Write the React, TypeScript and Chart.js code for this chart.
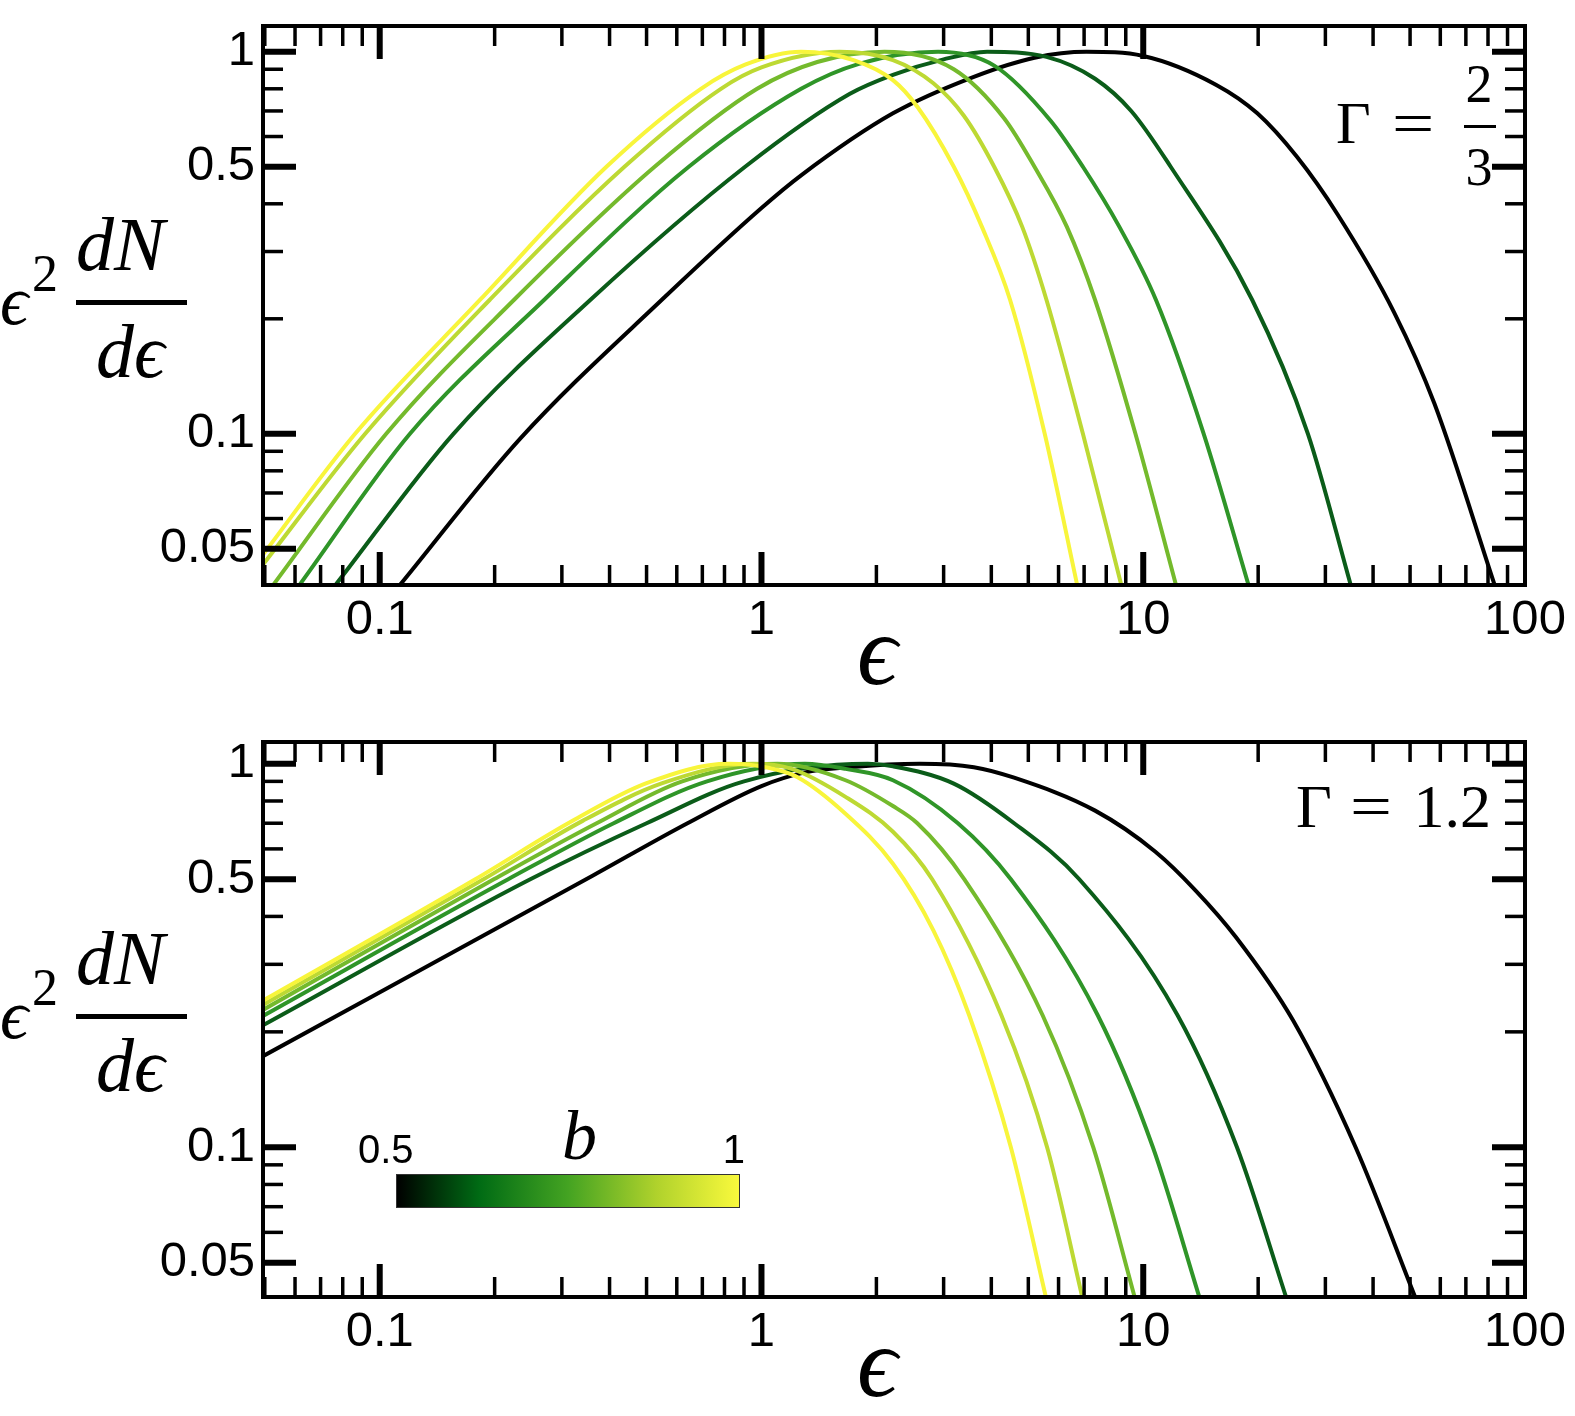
import React, { useEffect, useRef } from "react";
import { Chart, registerables } from "chart.js";

Chart.register(...registerables);

type Pt = [number, number];

// ---------- data ----------
// b parameter of the six curves (legend colour bar) and their colours
const bValues = [0.5, 0.6, 0.7, 0.8, 0.9, 1.0];
const curveColors = ["#000000", "#0b5c19", "#2f9528", "#74ba2c", "#bdd933", "#f8f53b"];

// axis ranges and tick labels
const xRange = [0.04946, 100];
const xTickLabels = [0.1, 1, 10, 100];
const yTickLabels = [0.05, 0.1, 0.5, 1];
const tickMantissas = [2, 3, 4, 5, 6, 7, 8, 9];
const xDecades = [0.01, 0.1, 1, 10];
const yMinorTicks = [0.06, 0.07, 0.08, 0.09, 0.2, 0.3, 0.4, 0.6, 0.7, 0.8, 0.9];

// Panel 1 : Gamma = 2/3   (epsilon, eps^2 dN/deps)
const g23_b050: Pt[] = [[0.1125, 0.04], [0.233, 0.097], [0.558, 0.228], [1.0, 0.39], [1.27, 0.475], [2.21, 0.69], [3.6, 0.86], [5.19, 0.965], [7.1, 1.0], [10.0, 0.975], [15.5, 0.82], [19.9, 0.69], [25.3, 0.53], [32.3, 0.375], [45.4, 0.208], [57.9, 0.12], [83.4, 0.04]];
const g23_b060: Pt[] = [[0.0763, 0.04], [0.156, 0.1], [0.356, 0.224], [0.906, 0.5], [1.7, 0.775], [2.21, 0.87], [3.0, 0.955], [3.9, 1.0], [5.58, 0.97], [7.48, 0.85], [9.3, 0.7], [11.8, 0.5], [19.3, 0.224], [27.0, 0.1], [35.0, 0.04]];
const g23_b070: Pt[] = [[0.0614, 0.04], [0.12, 0.1], [0.2694, 0.224], [0.645, 0.5], [1.27, 0.8], [1.8, 0.93], [2.9, 1.0], [4.07, 0.92], [5.72, 0.66], [6.95, 0.5], [8.66, 0.348], [10.8, 0.224], [14.4, 0.1], [18.9, 0.04]];
const g23_b080: Pt[] = [[0.0524, 0.04], [0.104, 0.1], [0.2246, 0.224], [0.525, 0.5], [0.974, 0.8], [1.4, 0.94], [2.1, 1.0], [3.19, 0.9], [4.32, 0.67], [5.19, 0.5], [6.31, 0.348], [7.48, 0.224], [9.54, 0.1], [12.2, 0.04]];
const g23_b090: Pt[] = [[0.049, 0.0449], [0.0916, 0.1], [0.194, 0.224], [0.4376, 0.5], [0.783, 0.8], [1.0, 0.91], [1.6, 1.0], [2.21, 0.951], [2.82, 0.827], [3.39, 0.68], [4.07, 0.5], [4.82, 0.348], [5.58, 0.224], [6.95, 0.1], [8.77, 0.04]];
const g23_b100: Pt[] = [[0.049, 0.0477], [0.0862, 0.1], [0.183, 0.224], [0.3925, 0.5], [0.694, 0.8], [0.906, 0.925], [1.27, 1.0], [1.75, 0.95], [2.21, 0.843], [2.56, 0.718], [3.19, 0.5], [3.78, 0.348], [4.48, 0.224], [5.52, 0.1], [6.72, 0.04]];

// Panel 2 : Gamma = 1.2
const g12_b050: Pt[] = [[0.049, 0.172], [0.36, 0.51], [0.64, 0.7], [1.0, 0.875], [1.3, 0.95], [1.7, 0.98], [2.6, 1.0], [3.6, 0.98], [4.59, 0.92], [7.48, 0.755], [10.76, 0.59], [13.7, 0.468], [17.5, 0.353], [24.7, 0.214], [36.0, 0.1], [51.9, 0.04]];
const g12_b060: Pt[] = [[0.049, 0.207], [0.248, 0.5], [0.5, 0.7], [0.9, 0.9], [1.9, 1.0], [2.21, 0.985], [3.19, 0.888], [4.59, 0.7], [6.8, 0.5], [12.3, 0.221], [17.6, 0.1], [23.8, 0.04]];
const g12_b070: Pt[] = [[0.049, 0.219], [0.217, 0.5], [0.41, 0.7], [0.72, 0.9], [1.3, 1.0], [1.66, 0.97], [2.21, 0.906], [3.27, 0.7], [4.5, 0.5], [7.6, 0.221], [10.6, 0.1], [14.1, 0.04]];
const g12_b080: Pt[] = [[0.049, 0.227], [0.199, 0.5], [0.37, 0.7], [0.62, 0.9], [1.1, 1.0], [1.66, 0.906], [2.21, 0.776], [2.56, 0.7], [3.4, 0.5], [5.45, 0.221], [7.4, 0.1], [9.54, 0.04]];
const g12_b090: Pt[] = [[0.049, 0.234], [0.187, 0.5], [0.34, 0.71], [0.55, 0.89], [0.95, 1.0], [1.2, 0.97], [1.66, 0.82], [2.21, 0.665], [2.8, 0.5], [4.25, 0.221], [5.6, 0.1], [6.95, 0.04]];
const g12_b100: Pt[] = [[0.049, 0.24], [0.178, 0.5], [0.32, 0.71], [0.5, 0.89], [0.82, 1.0], [1.05, 0.975], [1.24, 0.924], [1.66, 0.741], [2.21, 0.549], [2.82, 0.368], [3.5, 0.221], [4.5, 0.1], [5.58, 0.04]];

const panelTopCurves = [g23_b050, g23_b060, g23_b070, g23_b080, g23_b090, g23_b100];
const panelBottomCurves = [g12_b050, g12_b060, g12_b070, g12_b080, g12_b090, g12_b100];

// ---------- styling ----------
const W = 1575;
const SANS = "'Liberation Sans', Arial, sans-serif";
const SERIF = "'Liberation Serif', 'Times New Roman', 'DejaVu Serif', serif";
const MAJOR_LEN = 33;
const MINOR_LEN = 20;

const frameTicks = {
  id: "frameTicks",
  afterDraw(chart: any) {
    const { ctx, chartArea: a, scales } = chart;
    const xs = scales.x;
    const ys = scales.y;
    ctx.save();
    ctx.strokeStyle = "#000";
    ctx.lineCap = "butt";
    const seg = (x1: number, y1: number, x2: number, y2: number, w: number) => {
      ctx.lineWidth = w;
      ctx.beginPath();
      ctx.moveTo(x1, y1);
      ctx.lineTo(x2, y2);
      ctx.stroke();
    };
    const xMinor: number[] = [];
    xDecades.forEach((d) => tickMantissas.forEach((m) => xMinor.push(m * d)));
    const xTick = (v: number, len: number, w: number) => {
      const p = xs.getPixelForValue(v);
      if (p <= a.left + 1 || p >= a.right - 1) return;
      seg(p, a.bottom, p, a.bottom - len, w);
      seg(p, a.top, p, a.top + len, w);
    };
    const yTick = (v: number, len: number, w: number) => {
      const p = ys.getPixelForValue(v);
      if (p <= a.top + 1 || p >= a.bottom - 1) return;
      seg(a.left, p, a.left + len, p, w);
      seg(a.right, p, a.right - len, p, w);
    };
    xMinor.forEach((v) => xTick(v, MINOR_LEN, 3.5));
    xTickLabels.forEach((v) => xTick(v, MAJOR_LEN, 6));
    yMinorTicks.forEach((v) => yTick(v, MINOR_LEN, 3.5));
    yTickLabels.forEach((v) => yTick(v, MAJOR_LEN, 6));
    ctx.lineWidth = 4;
    ctx.strokeRect(a.left, a.top, a.right - a.left, a.bottom - a.top);
    ctx.restore();
  },
};

function LogPanel(props: { curves: Pt[][]; yMin: number; yMax: number; top: number; height: number; padTop: number; xAxisH: number }) {
  const ref = useRef<HTMLCanvasElement | null>(null);
  useEffect(() => {
    if (!ref.current) return;
    const n = props.curves.length;
    const chart = new Chart(ref.current, {
      type: "line",
      data: {
        datasets: props.curves.map((pts, i) => ({
          label: "b = " + bValues[i],
          data: pts.map(([x, y]) => ({ x, y })),
          borderColor: curveColors[i],
          backgroundColor: curveColors[i],
          borderWidth: 4,
          pointRadius: 0,
          fill: false,
          cubicInterpolationMode: "monotone",
          order: n - 1 - i,
        })),
      },
      options: {
        animation: false,
        responsive: false,
        maintainAspectRatio: false,
        events: [],
        layout: { autoPadding: false, padding: { top: props.padTop, right: W - 1525, left: 0, bottom: 0 } },
        plugins: { legend: { display: false }, tooltip: { enabled: false }, title: { display: false } },
        scales: {
          x: {
            type: "logarithmic",
            min: xRange[0],
            max: xRange[1],
            grid: { display: false, drawTicks: false },
            border: { display: false },
            afterBuildTicks: (s: any) => {
              s.ticks = xTickLabels.map((v) => ({ value: v }));
            },
            afterFit: (s: any) => {
              s.height = props.xAxisH;
              s.paddingLeft = 0;
              s.paddingRight = 0;
            },
            ticks: {
              padding: 6,
              autoSkip: false,
              maxRotation: 0,
              color: "#000",
              font: { family: SANS, size: 49 },
              callback: (v: any) => String(v),
            },
          },
          y: {
            type: "logarithmic",
            min: props.yMin,
            max: props.yMax,
            grid: { display: false, drawTicks: false },
            border: { display: false },
            afterBuildTicks: (s: any) => {
              s.ticks = yTickLabels.map((v) => ({ value: v }));
            },
            afterFit: (s: any) => {
              s.width = 263;
              s.paddingTop = 0;
              s.paddingBottom = 0;
            },
            ticks: {
              padding: 8,
              autoSkip: false,
              color: "#000",
              font: { family: SANS, size: 49 },
              callback: (v: any) => String(v),
            },
          },
        },
      } as any,
      plugins: [frameTicks],
    } as any);
    return () => chart.destroy();
  }, []);
  return (
    <canvas
      ref={ref}
      width={W}
      height={props.height}
      style={{ position: "absolute", left: 0, top: props.top, width: W, height: props.height }}
    />
  );
}

function Label(props: { x: number; base: number; size: number; text: string; italic?: boolean; family?: string; align?: "left" | "right" | "center"; sx?: number }) {
  const family = props.family || SERIF;
  const k = family === SANS ? 0.8465 : 0.8375;
  const align = props.align || "left";
  const sx = props.sx || 1;
  const style: any = {
    position: "absolute",
    top: props.base - k * props.size,
    fontSize: props.size,
    lineHeight: 1,
    fontFamily: family,
    fontStyle: props.italic ? "italic" : "normal",
    whiteSpace: "nowrap",
    color: "#000",
  };
  if (align === "left") {
    style.left = props.x;
    style.transformOrigin = "left center";
    if (sx !== 1) style.transform = `scaleX(${sx})`;
  } else if (align === "right") {
    style.right = W - props.x;
    style.transformOrigin = "right center";
    if (sx !== 1) style.transform = `scaleX(${sx})`;
  } else {
    style.left = props.x;
    style.transform = `translateX(-50%) scaleX(${sx})`;
  }
  return <div style={style}>{props.text}</div>;
}

function Bar(props: { x: number; y: number; w: number; h: number }) {
  return <div style={{ position: "absolute", left: props.x, top: props.y, width: props.w, height: props.h, background: "#000" }} />;
}

function YTitle(props: { dy: number }) {
  const dy = props.dy;
  return (
    <>
      <Label x={0} base={325 + dy} size={70} text={"\u03F5"} italic />
      <Label x={32} base={292 + dy} size={52} text="2" />
      <Label x={76} base={270 + dy} size={76} text="dN" italic />
      <Bar x={76} y={300 + dy} w={111} h={5} />
      <Label x={96} base={377 + dy} size={76} text={"d\u03F5"} italic />
    </>
  );
}

export default function App() {
  return (
    <div style={{ position: "absolute", left: 0, top: 0, width: W, height: 1416, background: "#fff", overflow: "hidden" }}>
      <LogPanel curves={panelTopCurves} yMin={0.0402} yMax={1.168} top={0} height={712} padTop={26} xAxisH={127} />
      <LogPanel curves={panelBottomCurves} yMin={0.0407} yMax={1.14} top={712} height={704} padTop={30} xAxisH={119} />

      <YTitle dy={0} />
      <YTitle dy={714} />
      <Label x={857} base={685} size={100} text={"\u03F5"} italic />
      <Label x={857} base={1397} size={100} text={"\u03F5"} italic />

      {/* Gamma = 2/3 */}
      <Label x={1336} base={143} size={60} text={"\u0393"} />
      <Label x={1392} base={143} size={60} text="=" sx={1.25} />
      <Label x={1479} base={102} size={54} text="2" align="center" />
      <Bar x={1464} y={125} w={32} h={3} />
      <Label x={1479} base={185} size={54} text="3" align="center" />

      {/* Gamma = 1.2 */}
      <Label x={1296} base={827} size={62} text={"\u0393"} />
      <Label x={1350} base={827} size={62} text="=" sx={1.2} />
      <Label x={1491} base={827} size={62} text="1.2" align="right" />

      {/* colour bar for b */}
      <div
        style={{
          position: "absolute",
          left: 396,
          top: 1174,
          width: 344,
          height: 34,
          boxSizing: "border-box",
          border: "1.5px solid #333",
          background: "linear-gradient(to right, #000000 0%, #006b14 24%, #44a322 50%, #b0d22c 76%, #f9f93c 100%)",
        }}
      />
      <Label x={358} base={1163} size={40} text={String(bValues[0])} family={SANS} />
      <Label x={745} base={1163} size={40} text={String(bValues[bValues.length - 1])} family={SANS} align="right" />
      <Label x={562} base={1160} size={70} text="b" italic />
    </div>
  );
}
